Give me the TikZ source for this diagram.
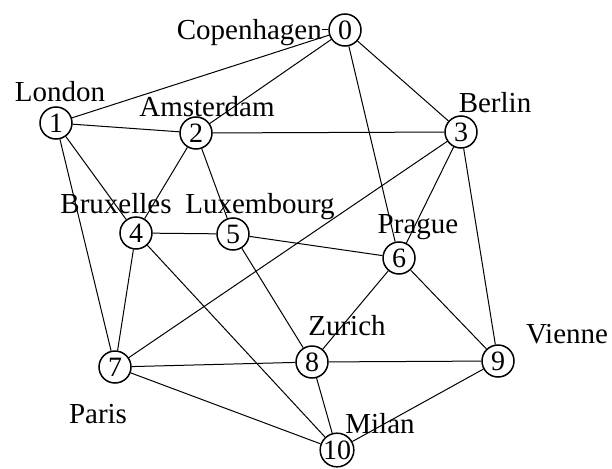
\documentclass[tikz,border=0pt]{standalone}
\usepackage{fontspec}
\setmainfont{Liberation Serif}
\begin{document}
\begin{tikzpicture}[x=1pt,y=-1pt,
  city/.style={circle,draw,line width=1.5pt,minimum size=32pt,inner sep=0pt,fill=white,
    font=\fontsize{28}{28}\selectfont},
  lbl/.style={inner sep=0pt,text height=19pt,text depth=0pt,
    font=\fontsize{29}{29}\selectfont},
  edge/.style={line width=1pt}]
\useasboundingbox (0,0) rectangle (612,468);
% cities
\node[city] (n0) at (345,30) {0};
\node[city] (n1) at (56,123) {1};
\node[city] (n2) at (196,133) {2};
\node[city] (n3) at (461,132) {3};
\node[city] (n4) at (136,233) {4};
\node[city] (n5) at (233,234) {5};
\node[city] (n6) at (399,258) {6};
\node[city] (n7) at (115,367) {7};
\node[city] (n8) at (312,362) {8};
\node[city] (n9) at (498,361) {9};
\node[city] (n10) at (337,450) {10};
% labels
\node[lbl,anchor=east] (lcop) at (322,30) {Copenhagen};
\node[lbl] (llon) at (60,92) {London};
\node[lbl] (lams) at (207,107) {Amsterdam};
\node[lbl] (lber) at (495,103) {Berlin};
\node[lbl] (lbru) at (116,204) {Bruxelles};
\node[lbl] (llux) at (260,204) {Luxembourg};
\node[lbl] (lpra) at (418,224) {Prague};
\node[lbl] (lzur) at (347,326) {Zurich};
\node[lbl] (lvie) at (567,334) {Vienne};
\node[lbl] (lpar) at (98,414) {Paris};
\node[lbl] (lmil) at (380,424) {Milan};
% edges
\draw[edge] (lcop.east) -- (n0.west);
\foreach \a/\b in {0/1,0/2,0/3,0/6,1/2,1/4,1/7,2/3,2/4,2/5,3/6,3/7,3/9,4/5,4/7,4/10,5/6,5/8,6/8,6/9,7/8,7/10,8/9,8/10,9/10}
  \draw[edge] (n\a) -- (n\b);
\end{tikzpicture}
\end{document}
